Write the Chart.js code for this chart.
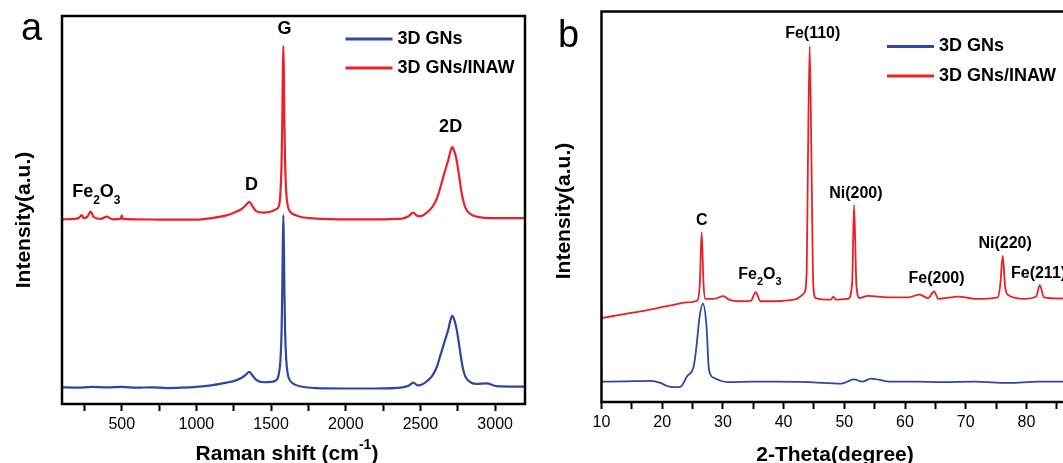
<!DOCTYPE html>
<html lang="en">

<head>
    <meta charset="UTF-8">
    <title>Raman / XRD</title>
    <script src="https://cdn.jsdelivr.net/npm/chart.js"></script>
    <style>
        html, body { margin: 0; padding: 0; background: #fff; overflow: hidden; }
        .figura { position: relative; width: 1063px; height: 463px; overflow: hidden; }
        #graficoRaman { position: absolute; left: 0; top: 0; }
        #graficoXrd { position: absolute; left: 540px; top: 0; }
    </style>
</head>

<body>
    <div class="figura">
        <canvas id="graficoRaman" width="540" height="463"></canvas>
        <canvas id="graficoXrd" width="560" height="463"></canvas>
    </div>

<script>
    // ---- panel a : Raman ----
    const ramanGnsX = [100, 200, 300, 400, 500, 600, 700, 800, 900, 1000, 1100, 1200, 1250, 1300, 1330, 1354, 1378, 1400, 1450, 1500, 1530, 1552, 1563, 1570, 1575, 1578, 1582, 1586, 1589, 1594, 1601, 1612, 1632, 1660, 1700, 1800, 2000, 2200, 2380, 2420, 2452, 2482, 2510, 2541, 2580, 2610, 2631, 2660, 2687, 2700, 2713, 2728, 2742, 2760, 2776, 2792, 2809, 2840, 2876, 2943, 3009, 3100, 3200];
    const ramanGnsY = [4.3, 4.2, 4.4, 4.3, 4.4, 4.2, 4.3, 4.1, 4.2, 4.4, 4.8, 5.5, 5.9, 6.7, 7.5, 8.3, 7.2, 6.2, 5.6, 5.7, 6.0, 7.8, 11.6, 18.4, 29.5, 40, 48.7, 40, 29.5, 18.4, 11.6, 7.6, 5.8, 5.0, 4.5, 4.1, 4.0, 4.0, 4.3, 4.7, 5.5, 4.8, 5.0, 5.8, 7.3, 9.6, 12.2, 15.9, 19.3, 21.5, 22.7, 21.5, 19.3, 15.0, 10.9, 8.0, 6.5, 5.5, 5.2, 5.3, 4.6, 4.5, 4.5];

    const ramanInawX = [100, 180, 215, 232, 245, 270, 292, 312, 360, 399, 440, 492, 500, 508, 600, 800, 1000, 1100, 1200, 1250, 1300, 1330, 1354, 1378, 1400, 1450, 1500, 1530, 1552, 1563, 1570, 1575, 1578, 1582, 1586, 1589, 1594, 1601, 1612, 1632, 1660, 1700, 1800, 2000, 2200, 2380, 2420, 2452, 2482, 2510, 2541, 2580, 2610, 2631, 2660, 2687, 2700, 2713, 2728, 2742, 2760, 2776, 2792, 2809, 2840, 2876, 3000, 3100, 3200];
    const ramanInawY = [47.6, 47.7, 48.0, 48.7, 47.9, 48.3, 49.6, 48.2, 47.7, 48.3, 47.6, 47.7, 48.6, 47.7, 47.6, 47.5, 47.5, 47.9, 48.6, 49.3, 50.2, 51.2, 52.1, 50.8, 49.7, 49.3, 49.6, 50.1, 51.0, 54.8, 61.8, 73, 83.4, 92.3, 83.4, 73, 61.8, 54.8, 51.0, 49.4, 48.7, 48.2, 47.8, 47.6, 47.6, 47.8, 48.4, 49.3, 48.4, 48.5, 49.3, 50.8, 53.0, 55.5, 59.5, 63.0, 65.0, 66.2, 65.0, 62.9, 58.5, 54.3, 51.6, 50.0, 48.8, 48.3, 47.9, 47.9, 47.9];

    const ramanRotulos = ['Fe_2O_3', 'D', 'G', '2D'];
    const ramanRotuloX = [330, 1368, 1589, 2702];
    const ramanRotuloY = [54.6, 56.5, 96.6, 71.4];

    // ---- panel b : XRD ----
    const xrdGnsX = [10, 14, 18.1, 19.7, 20.8, 22, 23.0, 24.1, 25.2, 25.7, 26.1, 26.7, 27.3, 27.7, 28.5, 30.7, 35, 38.5, 44, 49.5, 51.6, 53, 54.4, 57.7, 62, 66, 71.5, 77.0, 82, 86.2, 90];
    const xrdGnsY = [5.2, 5.3, 5.4, 4.9, 4.1, 3.8, 3.9, 6.6, 9.2, 15.0, 21.1, 25.2, 19.4, 8.3, 6.2, 5.1, 5.2, 5.2, 5.1, 4.7, 5.8, 5.2, 6.0, 5.2, 5.2, 5.1, 5.2, 4.9, 5.2, 5.2, 5.2];

    const xrdInawX = [10, 13, 16.4, 19, 21.9, 24, 25.8, 26.2, 26.5, 26.8, 27.1, 28.5, 30.1, 31, 32.9, 34.6, 35.4, 36.2, 38.4, 41.7, 43.4, 43.8, 44.0, 44.3, 44.6, 44.9, 45.3, 47.8, 48.2, 48.6, 50.6, 51.3, 51.6, 52.0, 52.5, 53.9, 57.2, 60.5, 62.4, 63.8, 64.8, 65.5, 68.8, 71.5, 75.3, 75.7, 76.1, 76.5, 77.0, 79.7, 81.6, 82.2, 82.9, 85.7, 90];
    const xrdInawY = [21.5, 22.3, 23.2, 24.0, 24.9, 25.5, 26.0, 30.5, 43.5, 30.5, 26.4, 26.4, 27.1, 26.2, 25.8, 25.9, 28.1, 25.8, 25.8, 26.2, 27.9, 33.0, 60.3, 91.1, 60.3, 29.6, 26.6, 26.2, 27.0, 26.2, 26.4, 30.5, 50.5, 29.8, 26.6, 27.2, 26.8, 26.8, 27.5, 26.6, 28.3, 26.4, 27.0, 26.4, 26.8, 30.2, 37.4, 29.5, 27.4, 26.4, 27.0, 29.9, 26.8, 26.5, 26.5];

    const xrdRotulos = ['C', 'Fe_2O_3', 'Fe(110)', 'Ni(200)', 'Fe(200)', 'Ni(220)', 'Fe(211)'];
    const xrdRotuloX = [26.5, 36.1, 44.8, 51.9, 65.2, 76.5, 82.0];
    const xrdRotuloY = [46.5, 32.5, 94.4, 53.3, 31.7, 40.5, 33.0];

    const legendas = ['3D GNs', '3D GNs/INAW'];
    const AZUL = '#2e46a4';
    const VERMELHO = '#ec2027';
    const FONTE = '"Liberation Sans", Arial, Helvetica, sans-serif';

    function pares(xs, ys) {
        return xs.map(function (x, i) { return { x: x, y: ys[i] }; });
    }

    function fonte(tam, negrito) {
        return (negrito ? 'bold ' : '') + tam + 'px ' + FONTE;
    }

    // 'Fe_2O_3' -> pieces with subscript digits
    function pedacos(texto, tam) {
        return texto.split(/(_\d)/).filter(function (p) { return p; }).map(function (p) {
            if (p[0] === '_') return { t: p.slice(1), tam: Math.round(tam * 0.68), dy: tam * 0.45 };
            return { t: p, tam: tam, dy: 0 };
        });
    }

    function escreve(ctx, partes, x, y, negrito, alinhar) {
        let total = 0;
        partes.forEach(function (p) {
            ctx.font = fonte(p.tam, negrito);
            p.w = ctx.measureText(p.t).width;
            total += p.w;
        });
        let cx = alinhar === 'center' ? x - total / 2 : x;
        ctx.textAlign = 'left';
        partes.forEach(function (p) {
            ctx.font = fonte(p.tam, negrito);
            ctx.fillText(p.t, cx, y + p.dy);
            cx += p.w;
        });
    }

    const decoracao = {
        id: 'decoracao',
        afterDraw(chart, args, o) {
            const ctx = chart.ctx;
            const a = chart.chartArea;
            const sx = chart.scales.x, sy = chart.scales.y;
            ctx.save();
            ctx.fillStyle = '#000';

            ctx.strokeStyle = '#000';
            ctx.lineWidth = 2.5;
            ctx.strokeRect(a.left, a.top, a.right - a.left, a.bottom - a.top);

            ctx.textBaseline = 'alphabetic';
            ctx.textAlign = 'left';
            ctx.font = fonte(38, false);
            ctx.fillText(o.letra, o.letraX, o.letraY);

            escreve(ctx, o.tituloX, o.tituloXx, o.tituloXy, true, 'center');

            ctx.save();
            ctx.translate(o.tituloYx, o.tituloYy);
            ctx.rotate(-Math.PI / 2);
            ctx.textBaseline = 'middle';
            escreve(ctx, [{ t: 'Intensity(a.u.)', tam: 21, dy: 0 }], 0, 0, true, 'center');
            ctx.restore();

            ctx.textBaseline = 'middle';
            o.rotulos.forEach(function (r, i) {
                escreve(ctx, pedacos(r, o.tamRotulo), sx.getPixelForValue(o.rotuloX[i]), sy.getPixelForValue(o.rotuloY[i]), true, 'center');
            });

            chart.data.datasets.forEach(function (ds, i) {
                const y = o.legendaY + i * o.legendaPasso;
                ctx.strokeStyle = ds.borderColor;
                ctx.lineWidth = 3;
                ctx.beginPath();
                ctx.moveTo(o.legendaX, y);
                ctx.lineTo(o.legendaX + 47, y);
                ctx.stroke();
                escreve(ctx, [{ t: ds.label, tam: 18, dy: 0 }], o.legendaX + 52, y, true, 'left');
            });
            ctx.restore();
        }
    };

    function eixoX(min, max, passo, rotuloCada, altura) {
        return {
            type: 'linear',
            min: min,
            max: max,
            // one tick per step, labels only on the bigger step
            afterBuildTicks: function (s) {
                const lista = [];
                for (let v = Math.ceil(s.min / passo) * passo; v <= s.max; v += passo) {
                    lista.push({ value: v });
                }
                s.ticks = lista;
            },
            afterFit: function (s) { s.height = altura; },
            border: { display: false },
            grid: { drawOnChartArea: false, drawTicks: true, tickLength: 7, tickWidth: 2, tickColor: '#000' },
            ticks: {
                autoSkip: false,
                maxRotation: 0,
                padding: 4,
                color: '#000',
                font: { family: FONTE, size: 16 },
                callback: function (v) { return v % rotuloCada === 0 ? String(v) : ''; }
            }
        };
    }

    function serie(rotulo, cor, dados, largura) {
        return {
            label: rotulo,
            data: dados,
            borderColor: cor,
            borderWidth: largura,
            pointRadius: 0,
            cubicInterpolationMode: 'monotone',
            fill: false
        };
    }

    new Chart(document.getElementById('graficoRaman'), {
        type: 'line',
        data: {
            datasets: [
                serie(legendas[0], AZUL, pares(ramanGnsX, ramanGnsY), 2.2),
                serie(legendas[1], VERMELHO, pares(ramanInawX, ramanInawY), 2.2)
            ]
        },
        options: {
            responsive: false,
            maintainAspectRatio: false,
            animation: false,
            events: [],
            layout: { padding: { left: 62, right: 15, top: 16, bottom: 0 } },
            plugins: {
                legend: { display: false },
                tooltip: { enabled: false },
                decoracao: {
                    letra: 'a', letraX: 21, letraY: 40,
                    tituloX: [{ t: 'Raman shift (cm', tam: 21, dy: 0 }, { t: '-1', tam: 14, dy: -11 }, { t: ')', tam: 21, dy: 0 }],
                    tituloXx: 287, tituloXy: 460,
                    tituloYx: 24, tituloYy: 220,
                    rotulos: ramanRotulos, rotuloX: ramanRotuloX, rotuloY: ramanRotuloY, tamRotulo: 18,
                    legendaX: 345.5, legendaY: 39, legendaPasso: 29
                }
            },
            scales: {
                x: eixoX(100, 3200, 250, 500, 59),
                y: { display: false, min: 0, max: 100 }
            }
        },
        plugins: [decoracao]
    });

    new Chart(document.getElementById('graficoXrd'), {
        type: 'line',
        data: {
            datasets: [
                serie(legendas[0], AZUL, pares(xrdGnsX, xrdGnsY), 1.8),
                serie(legendas[1], VERMELHO, pares(xrdInawX, xrdInawY), 1.8)
            ]
        },
        options: {
            responsive: false,
            maintainAspectRatio: false,
            animation: false,
            events: [],
            layout: { padding: { left: 61.5, right: 12.5, top: 11.5, bottom: 0 } },
            plugins: {
                legend: { display: false },
                tooltip: { enabled: false },
                decoracao: {
                    letra: 'b', letraX: 18, letraY: 47,
                    tituloX: [{ t: '2-Theta(degree)', tam: 21, dy: 0 }],
                    tituloXx: 295, tituloXy: 461,
                    tituloYx: 24, tituloYy: 211,
                    rotulos: xrdRotulos, rotuloX: xrdRotuloX, rotuloY: xrdRotuloY, tamRotulo: 16,
                    legendaX: 347, legendaY: 46.5, legendaPasso: 29.5
                }
            },
            scales: {
                x: eixoX(10, 90, 5, 10, 61),
                y: { display: false, min: 0, max: 100 }
            }
        },
        plugins: [decoracao]
    });
</script>
</body>

</html>
